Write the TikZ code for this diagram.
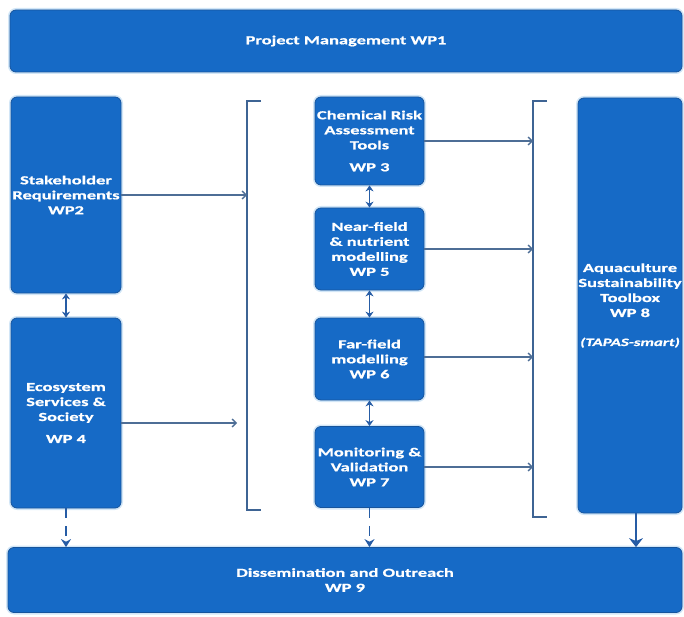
\documentclass[tikz,border=0pt]{standalone}
\usepackage{fontspec}
\setmainfont{Carlito}[FakeStretch=1.5,FakeBold=0.8]
\usetikzlibrary{arrows.meta}
\definecolor{boxblue}{RGB}{22,106,198}
\definecolor{boxedge}{RGB}{22,84,156}
\definecolor{glow}{RGB}{210,230,247}
\definecolor{brk}{RGB}{62,100,148}
\definecolor{arrc}{RGB}{78,110,150}
\definecolor{darr}{RGB}{38,92,165}
\begin{document}
\begin{tikzpicture}[x=1pt,y=-1pt,
  wpbox/.style={draw=boxedge, line width=0.8pt, fill=boxblue, rounded corners=6pt,
    text=white, font=\fontsize{12.3}{15}\selectfont\bfseries, align=center, inner sep=0pt,
    preaction={draw=glow, line width=4pt}},
  brack/.style={draw=brk, line width=2.2pt},
  flow/.style={draw=arrc, line width=1.3pt, -{Straight Barb[length=4pt,width=8pt]}},
  dbl/.style={draw=darr, line width=1.5pt, {Stealth[length=6pt,width=8pt]}-{Stealth[length=6pt,width=8pt]}},
  dsh/.style={draw=darr, line width=1.8pt, dash pattern=on 10pt off 8pt, -{Stealth[length=8pt,width=10pt]}},
  big/.style={draw=darr, line width=2.8pt, -{Stealth[length=9pt,width=14pt]}}
]
\useasboundingbox (0,0) rectangle (684,617);

\node[wpbox, minimum width=672pt, minimum height=62pt] (pm) at (346,41) {Project Management WP1};

\node[wpbox, minimum width=110pt, minimum height=196pt] (wp2) at (66,195) {Stakeholder\\Requirements\\WP2};
\node[wpbox, minimum width=110pt, minimum height=190pt] (wp4) at (66,413) {Ecosystem\\Services \&\\Society\\[7pt]WP 4};

\node[wpbox, minimum width=109pt, minimum height=88pt] (wp3) at (369.5,141) {Chemical Risk\\Assessment\\Tools\\[7pt]WP 3};
\node[wpbox, minimum width=109pt, minimum height=82pt] (wp5) at (369.5,249) {Near-field\\\& nutrient\\modelling\\WP 5};
\node[wpbox, minimum width=109pt, minimum height=82pt] (wp6) at (369.5,359) {Far-field\\modelling\\WP 6};
\node[wpbox, minimum width=109pt, minimum height=81pt] (wp7) at (369.5,467) {Monitoring \&\\Validation\\WP 7};

\node[wpbox, minimum width=104pt, minimum height=415pt] (wp8) at (630,305.5) {Aquaculture\\Sustainability\\Toolbox\\WP 8\\[14pt]{\fontsize{11.2}{15}\selectfont\textit{(TAPAS-smart)}}};

\node[wpbox, minimum width=674pt, minimum height=65pt] (wp9) at (345,580) {Dissemination and Outreach\\WP 9};

% brackets
\coordinate (lbt) at (247,101);
\coordinate (lbb) at (247,510);
\coordinate (rbt) at (533,101);
\coordinate (rbb) at (533,517);
\draw[brack] ([xshift=14pt]lbt) -- (lbt) -- (lbb) -- ([xshift=14pt]lbb);
\draw[brack] ([xshift=14pt]rbt) -- (rbt) -- (rbb) -- ([xshift=14pt]rbb);

% flows into left bracket
\draw[flow] (wp2.east) -- (wp2.east -| lbt);
\coordinate (w4o) at ([yshift=-10pt]wp4.east);
\coordinate (w4e) at (237,423);
\draw[flow] (w4o) -- (w4e);

% flows into right bracket
\draw[flow] (wp3.east) -- (wp3.east -| rbt);
\draw[flow] (wp5.east) -- (wp5.east -| rbt);
\draw[flow] ([yshift=2pt]wp6.east) -- ([yshift=2pt]wp6.east -| rbt);
\draw[flow] (wp7.east) -- (wp7.east -| rbt);

% double arrows
\draw[dbl] (wp2.south) -- (wp4.north);
\draw[dbl] (wp3.south) -- (wp5.north);
\draw[dbl] (wp5.south) -- (wp6.north);
\draw[dbl] (wp6.south) -- (wp7.north);

% down to dissemination
\draw[dsh] (wp4.south) -- (wp4.south |- wp9.north);
\draw[dsh] (wp7.south) -- (wp7.south |- wp9.north);
\draw[big] ([xshift=6pt]wp8.south) -- ([xshift=6pt]wp8.south |- wp9.north);
\end{tikzpicture}
\end{document}
